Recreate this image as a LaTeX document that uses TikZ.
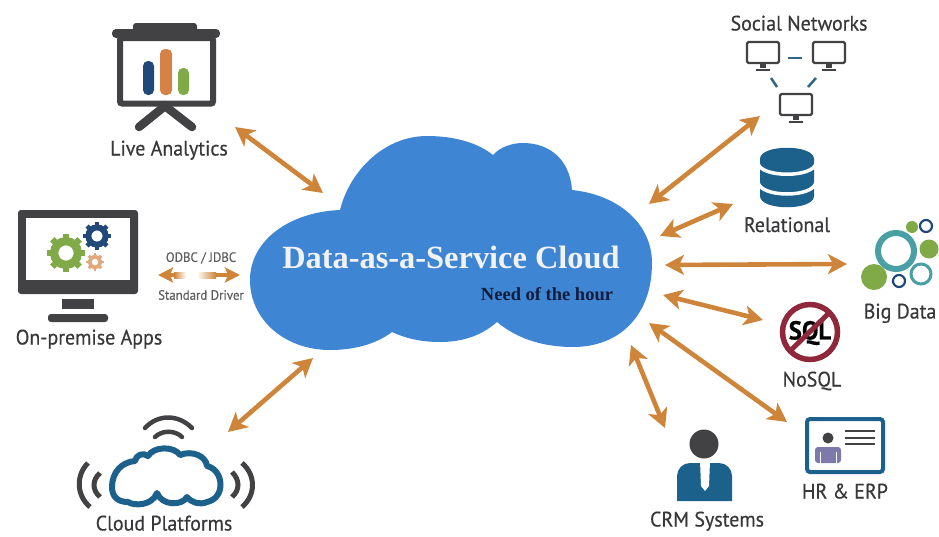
\documentclass[tikz,border=0pt]{standalone}
\usepackage{fontspec}
\setmainfont{Liberation Serif}
\newfontfamily\labfont[FakeStretch=0.95,FakeBold=0.4]{PT Sans}
\usetikzlibrary{arrows.meta}
\definecolor{linkorange}{RGB}{206,133,58}
\definecolor{cloudblue}{RGB}{62,133,212}
\definecolor{icondark}{RGB}{66,66,68}
\definecolor{iconblue}{RGB}{28,96,140}
\definecolor{icongreen}{RGB}{128,170,72}
\definecolor{iconteal}{RGB}{72,160,165}
\definecolor{iconnavy}{RGB}{32,72,120}
\definecolor{iconorange}{RGB}{214,130,70}
\definecolor{nored}{RGB}{142,40,58}
\definecolor{hourblue}{RGB}{20,28,60}
\definecolor{badgeviolet}{RGB}{125,122,170}
% gear: x, y, radius, colour
\newcommand{\gearicon}[4]{
  \draw[#4, line width=#3*0.5pt] (#1,#2) circle[radius=#3*0.72];
  \foreach \a in {0,45,...,315}
    \draw[#4, line width=#3*0.38pt] (#1,#2) ++(\a:#3*0.85) -- ++(\a:#3*0.32);
}
% small screen: x, y of the upper left corner
\newcommand{\screenicon}[2]{
  \draw[icondark, line width=2.2pt, rounded corners=1.5pt] (#1,#2) rectangle ++(32,21);
  \fill[icondark] (#1+13,#2+22) rectangle ++(6,4);
  \fill[icondark] (#1+9,#2+26.5) rectangle ++(14,2);
}
\begin{document}
\begin{tikzpicture}[x=1pt, y=-1pt,
    lab/.style = {font=\labfont\fontsize{21}{21}\selectfont, text=icondark!85!black, inner sep=0pt, text height=15pt, text depth=0pt},
    small/.style = {font=\labfont\fontsize{13.5}{14}\selectfont, text=icondark!85, inner sep=0pt},
    link/.style = {linkorange, line width=4.6pt, {Stealth[length=19pt,width=20pt,inset=5pt]}-{Stealth[length=19pt,width=20pt,inset=5pt]}},
    thinlink/.style = {linkorange, line width=4pt, {Stealth[length=15pt,width=15pt,inset=3pt]}-{Stealth[length=15pt,width=15pt,inset=3pt]}}]
  \useasboundingbox (0,0) rectangle (939,536);

  % main cloud
  \fill[cloudblue] (340,210) .. controls (350,170) and (385,136) .. (427,136)
    .. controls (455,136) and (478,143) .. (493,155)
    .. controls (500,147) and (512,143) .. (523,143)
    .. controls (550,143) and (570,160) .. (572,190)
    .. controls (620,195) and (652,225) .. (652,263)
    .. controls (652,315) and (620,347) .. (573,347)
    .. controls (540,347) and (515,337) .. (497,322)
    .. controls (480,337) and (460,342) .. (440,342)
    .. controls (420,342) and (405,338) .. (392,332)
    .. controls (375,345) and (352,350) .. (330,350)
    .. controls (285,350) and (250,320) .. (250,280)
    .. controls (250,240) and (290,212) .. (340,210) -- cycle;
  \node[text=white!95!black, font=\bfseries\fontsize{32.4}{33}\selectfont, inner sep=0pt] (title) at (451,257) {Data-as-a-Service Cloud};
  \node[text=hourblue, font=\bfseries\fontsize{18.5}{19}\selectfont, inner sep=0pt] (hour) at (547,294) {Need of the hour};

  % live analytics
  \fill[icondark, rounded corners=3pt] (133,23) rectangle (197,33);
  \fill[icondark, rounded corners=4pt] (112,29) rectangle (220,38);
  \draw[icondark, line width=6pt, rounded corners=2pt] (120,38) rectangle (213,103.5);
  \draw[icondark, line width=8.5pt, line cap=round] (139,127) -- (165,106) -- (192,127);
  \fill[iconnavy, rounded corners=5pt] (143,61) rectangle (154,95);
  \fill[iconorange, rounded corners=5pt] (160,49) rectangle (172,95);
  \fill[icongreen, rounded corners=5pt] (178,68) rectangle (189,95);
  \node[lab] (live) at (169,148) {Live Analytics};

  % on-premise monitor
  \fill[icondark, rounded corners=3pt] (18,210) rectangle (138,294);
  \fill[white] (26,218) rectangle (130,280);
  \fill[icondark] (62,299) rectangle (94,309);
  \fill[icondark, rounded corners=3pt] (48,314) rectangle (108,322);
  \gearicon{66}{253}{16.5}{icongreen}
  \gearicon{97}{236}{12}{iconnavy}
  \gearicon{95}{262}{7.5}{iconorange!70}
  \node[lab] (apps) at (89,337) {On-premise Apps};
  \node[small] (odbc) at (201,258) {ODBC / JDBC};
  \node[small] (driver) at (201,295) {Standard Driver};

  % cloud platforms
  \draw[icondark, line width=4.5pt, line cap=round] (145,428) .. controls (158,414) and (178,414) .. (192,428);
  \draw[icondark, line width=4.5pt, line cap=round] (155,437) .. controls (162,430) and (175,430) .. (182,437);
  \draw[iconblue, line width=6pt, line join=round, fill=white] (112,487)
    .. controls (112,472) and (122,462) .. (135,461)
    .. controls (136,455) and (143,452) .. (148,456)
    .. controls (154,446) and (174,446) .. (180,455)
    .. controls (192,450) and (206,456) .. (207,466)
    .. controls (224,470) and (226,498) .. (207,502)
    .. controls (200,505) and (192,503) .. (187,497)
    .. controls (182,506) and (162,506) .. (157,493)
    .. controls (152,506) and (134,506) .. (128,502)
    .. controls (118,502) and (112,497) .. (112,487) -- cycle;
  \draw[icondark, line width=5pt] (88,463) .. controls (76,475) and (76,495) .. (90,507);
  \draw[icondark, line width=5pt] (100,473) .. controls (92,480) and (92,490) .. (100,497);
  \draw[icondark, line width=5pt] (242,463) .. controls (256,475) and (256,495) .. (242,507);
  \draw[icondark, line width=5pt] (232,472) .. controls (240,480) and (240,490) .. (232,497);
  \node[lab] (platforms) at (164,523) {Cloud Platforms};

  % social networks
  \node[lab] (social) at (799,23) {Social Networks};
  \screenicon{747}{42}
  \screenicon{813}{42}
  \screenicon{780}{94}
  \draw[iconblue!80!gray, line width=2.5pt] (788,58) -- (802,58);
  \draw[iconblue!80!gray, line width=2.5pt] (771,78) -- (777,87);
  \draw[iconblue!80!gray, line width=2.5pt] (816,78) -- (808,87);

  % relational
  \fill[iconblue] (760,159) .. controls (760,144) and (814,144) .. (814,159)
    -- (814,196) .. controls (814,211) and (760,211) .. (760,196) -- cycle;
  \draw[white, line width=3.5pt] (758,163) .. controls (760,178) and (814,178) .. (816,163);
  \draw[white, line width=3.5pt] (758,182) .. controls (760,198) and (814,198) .. (816,182);
  \node[lab] (relational) at (787,224.5) {Relational};

  % big data
  \draw[iconteal, line width=6pt] (896,251) circle[radius=18];
  \fill[icongreen] (912,227) circle[radius=6];
  \draw[iconnavy, line width=2.2pt] (926,226) circle[radius=6];
  \fill[icongreen] (929,249) circle[radius=9.5];
  \fill[icongreen] (874,277) circle[radius=13];
  \draw[iconnavy, line width=2.2pt] (899,281) circle[radius=6];
  \draw[iconteal, line width=3pt] (921,274) circle[radius=10];
  \node[lab] (bigdata) at (900,311) {Big Data};

  % nosql
  \node[text=black, font=\labfont\bfseries\fontsize{26}{26}\selectfont, inner sep=0pt] (sql) at (810,333) {SQL};
  \draw[nored, line width=5.5pt] (810,332) circle[radius=27.5];
  \draw[nored, line width=5pt] (830,312) -- (790,351);
  \node[lab] (nosql) at (812,379) {NoSQL};

  % hr and erp
  \draw[iconblue, line width=4pt, rounded corners=3pt] (807,419) rectangle (883,472);
  \fill[icondark] (828,438) circle[radius=5.5];
  \fill[badgeviolet, rounded corners=3pt] (815,447) rectangle (841,463);
  \draw[white, line width=1pt] (820,452) -- (820,463);
  \draw[white, line width=1pt] (836,452) -- (836,463);
  \foreach \ly in {431,438,444}
    \draw[icondark, line width=2.2pt] (845,\ly) -- (875,\ly);
  \node[lab] (erp) at (845,491) {HR \& ERP};

  % crm systems
  \fill[icondark] (704,444) circle[radius=14.5];
  \fill[iconblue] (677,501) [rounded corners=13pt] -- (677,463) -- (732,463) [sharp corners] -- (732,501) -- cycle;
  \fill[white] (700,461) -- (710,461) -- (709,486) -- (705,491) -- (701,486) -- cycle;
  \node[lab] (crm) at (707,519) {CRM Systems};

  % connector ends
  \coordinate (liveend) at (235,127);
  \coordinate (livecloud) at (323,193);
  \coordinate (platend) at (228,432);
  \coordinate (platcloud) at (313,358);
  \coordinate (socialend) at (760,116);
  \coordinate (socialcloud) at (649,204);
  \coordinate (relend) at (733,204);
  \coordinate (relcloud) at (660,236);
  \coordinate (bigend) at (847,264);
  \coordinate (bigcloud) at (665,265);
  \coordinate (noend) at (763,320);
  \coordinate (nocloud) at (663,295);
  \coordinate (erpend) at (787,422);
  \coordinate (erpcloud) at (649,323);
  \coordinate (crmend) at (665,428);
  \coordinate (crmcloud) at (631,345);
  \coordinate (odbcleft) at (158,275);
  \coordinate (odbcright) at (240,275);

  \draw[link] (liveend) -- (livecloud);
  \draw[link] (platend) -- (platcloud);
  \draw[link] (socialend) -- (socialcloud);
  \draw[link] (relend) -- (relcloud);
  \draw[link] (bigcloud) -- (bigend);
  \draw[link] (nocloud) -- (noend);
  \draw[link] (erpcloud) -- (erpend);
  \draw[link] (crmcloud) -- (crmend);
  \draw[thinlink] (odbcleft) -- (odbcright);
  \shade[left color=linkorange, right color=white, draw=none] (174,272) rectangle (186,278);
  \fill[white] (186,272) rectangle (197,278);
  \shade[left color=white, right color=linkorange, draw=none] (197,272) rectangle (216,278);
\end{tikzpicture}
\end{document}
